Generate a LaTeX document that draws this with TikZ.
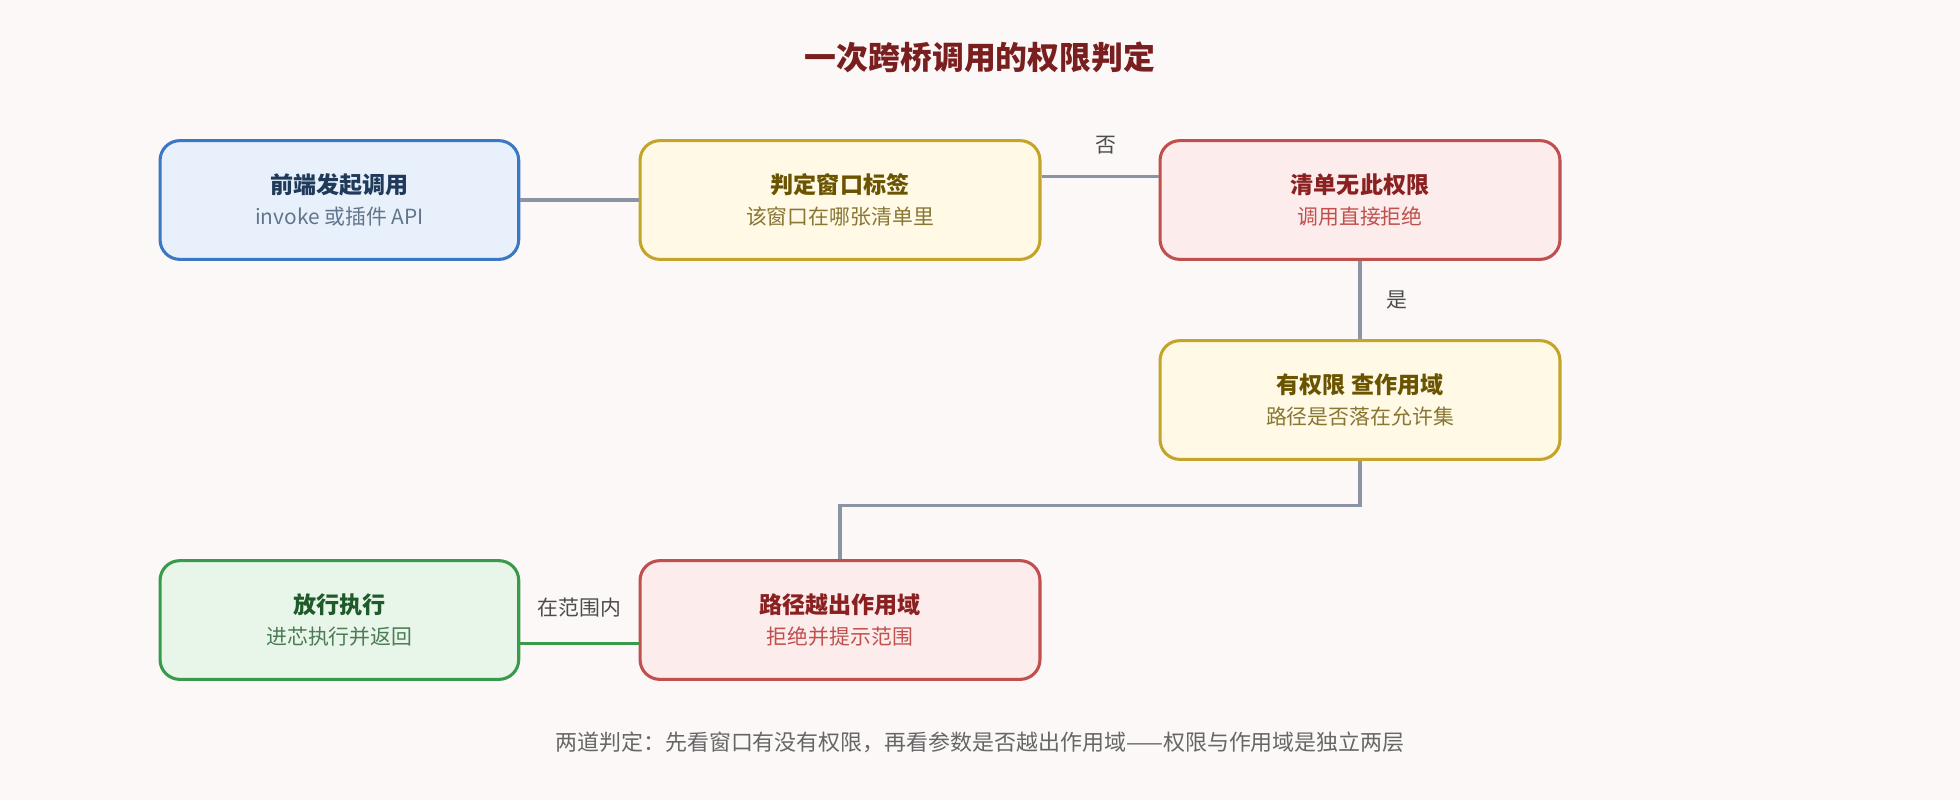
\documentclass[tikz,border=0pt]{standalone}
\usepackage{fontspec}
\setmainfont{Noto Sans CJK SC}
\definecolor{bgc}{HTML}{FCF8F7}
\definecolor{titc}{HTML}{7A1F1F}
\definecolor{bluB}{HTML}{3B78C4}\definecolor{bluF}{HTML}{E8F1FB}\definecolor{bluT}{HTML}{1F3A5A}
\definecolor{yelB}{HTML}{C4A52A}\definecolor{yelF}{HTML}{FFF9E6}\definecolor{yelT}{HTML}{6B5400}
\definecolor{redB}{HTML}{C0504D}\definecolor{redF}{HTML}{FCECEC}\definecolor{redT}{HTML}{8A2020}
\definecolor{grnB}{HTML}{3A9A4C}\definecolor{grnF}{HTML}{E8F6EA}\definecolor{grnT}{HTML}{1F5A2A}
\definecolor{wire}{HTML}{8A94A3}
\begin{document}
\begin{tikzpicture}[x=0.02cm,y=-0.02cm,%
% common options for the boxes:
box/.style = {draw, rounded corners=9pt, line width=1.4pt, align=center,
            minimum height=1.9cm, inner sep=0},
wide/.style = {box, minimum width=6.4cm},
narrow/.style = {box, minimum width=5.74cm},
% connectors and their labels:
link/.style = {draw=wire, line width=1.4pt},
lbl/.style = {font=\fontsize{9.5}{11}\selectfont, text=black!70}]
\fill[bgc] (0,0) rectangle (1568,640);
\node[font=\fontsize{14.5}{17}\selectfont\bfseries, text=titc] (title) at (784,46) {一次跨桥调用的权限判定};
\node[narrow, fill=bluF, draw=bluB] (call) at (271.5,160)
  {{\fontsize{10.5}{13}\selectfont\bfseries\color{bluT}前端发起调用}\\[2pt]{\fontsize{9.5}{12}\selectfont\color{bluT!70}invoke 或插件 API}};
\node[wide, fill=yelF, draw=yelB] (label) at (672,160)
  {{\fontsize{10.5}{13}\selectfont\bfseries\color{yelT}判定窗口标签}\\[2pt]{\fontsize{9.5}{12}\selectfont\color{yelT!80}该窗口在哪张清单里}};
\node[wide, fill=redF, draw=redB] (deny) at (1088,160)
  {{\fontsize{10.5}{13}\selectfont\bfseries\color{redT}清单无此权限}\\[2pt]{\fontsize{9.5}{12}\selectfont\color{redB}调用直接拒绝}};
\node[wide, fill=yelF, draw=yelB] (scope) at (1088,320)
  {{\fontsize{10.5}{13}\selectfont\bfseries\color{yelT}有权限 查作用域}\\[2pt]{\fontsize{9.5}{12}\selectfont\color{yelT!80}路径是否落在允许集}};
\node[wide, fill=redF, draw=redB] (out) at (672,496)
  {{\fontsize{10.5}{13}\selectfont\bfseries\color{redT}路径越出作用域}\\[2pt]{\fontsize{9.5}{12}\selectfont\color{redB}拒绝并提示范围}};
\node[narrow, fill=grnF, draw=grnB] (run) at (271.5,496)
  {{\fontsize{10.5}{13}\selectfont\bfseries\color{grnT}放行执行}\\[2pt]{\fontsize{9.5}{12}\selectfont\color{grnT!80}进芯执行并返回}};
\draw[link] (call.east) -- (label.west);
\draw[link] ([yshift=0.38cm]label.east) -- node[lbl, above=6pt, pos=0.55] {否} ([yshift=0.38cm]deny.west);
\draw[link] (deny.south) -- node[lbl, right=8pt] {是} (scope.south |- scope.north);
\draw[link] (scope.south) -- ++(0,36) -| (out.north);
\draw[link, draw=grnB] ([yshift=-0.38cm]out.west) -- node[lbl, above=8pt] {在范围内} ([yshift=-0.38cm]run.east);
\node[font=\fontsize{10}{12}\selectfont, text=black!60] (note) at (784,594) {两道判定：先看窗口有没有权限，再看参数是否越出作用域——权限与作用域是独立两层};
\end{tikzpicture}
\end{document}
